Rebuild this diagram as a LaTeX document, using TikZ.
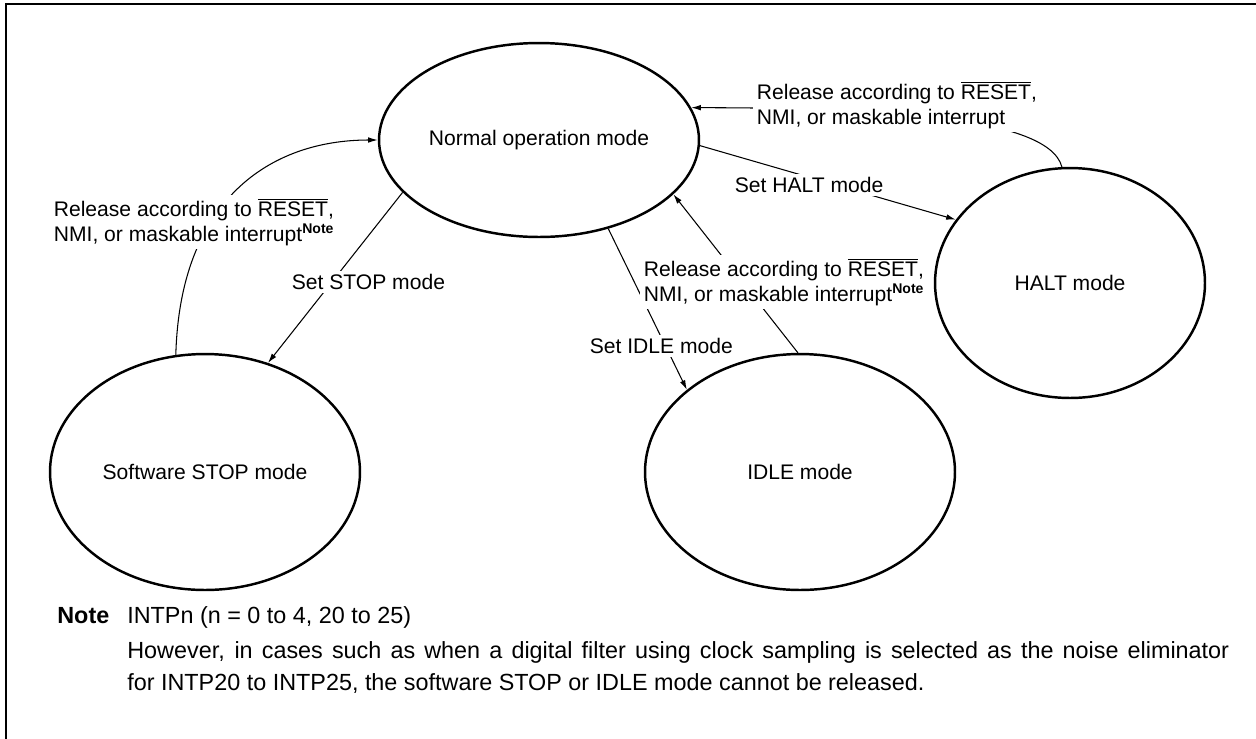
\documentclass[tikz,border=0pt]{standalone}
\usepackage{fontspec}
\setmainfont{Liberation Sans}
\usetikzlibrary{shapes.geometric,arrows.meta,backgrounds}
\newcommand{\resetbar}{$\overline{\mbox{RESET}}$}
\newcommand{\notemark}{\textsuperscript{\bfseries Note}}

\begin{document}
\begin{tikzpicture}[x=0.02cm, y=-0.02cm,
	every node/.style={font=\fontsize{12}{14.2}\selectfont},
	mode/.style={ellipse, draw, line width=1.4pt, inner sep=0pt, minimum width=6.2cm, minimum height=4.72cm},
	link/.style={line width=0.6pt, -{Latex[length=5.5pt,width=3.2pt]}},
	lbl/.style={fill=white, inner sep=2pt, align=left, anchor=west},
	notetxt/.style={font=\fontsize{13.3}{16}\selectfont, inner sep=0pt, anchor=base west}]
	\useasboundingbox (0,0) rectangle (1256,738);
	\draw[line width=1.7pt] (6,750) |- (1270,4);
	% operating modes
	\node[mode, minimum width=6.4cm, minimum height=3.88cm] (normal) at (539,140) {Normal operation mode};
	\foreach \id/\x/\y/\modetext in {sstop/205/472/Software STOP mode, idle/800/472/IDLE mode}
		\node[mode] (\id) at (\x,\y) {\modetext};
	\node[mode, minimum width=5.4cm, minimum height=4.6cm] (halt) at (1070,283) {HALT mode};
	\begin{scope}[on background layer]
		% transitions
		\draw[link] (normal.201) -- (sstop.60);
		\draw[link] (normal.-2) -- (halt.151);
		\draw[link] (normal.-52) -- (idle.144);
		\draw[link] (idle.91) -- (normal.-22);
		\draw[link] (sstop.104) .. controls (180,200) and (270,140) .. (normal.180);
		\draw[link] (halt.94) .. controls (1048,112) and (850,108) .. (normal.12);
		% labels on the transitions
		\node[lbl] (relstop) at (50,222) {Release according to \resetbar,\\NMI, or maskable interrupt\notemark};
		\node[lbl] (relhalt) at (753,105) {Release according to \resetbar,\\NMI, or maskable interrupt};
		\node[lbl] (relidle) at (640,282) {Release according to \resetbar,\\NMI, or maskable interrupt\notemark};
		\node[lbl] (setstop) at (288,282) {Set STOP mode};
		\node[lbl] (sethalt) at (731,185) {Set HALT mode};
		\node[lbl] (setidle) at (586,346) {Set IDLE mode};
	\end{scope}
	% note
	\node[notetxt, font=\fontsize{13.3}{16}\selectfont\bfseries] (notehead) at (57,623) {Note};
	\node[notetxt] (noteline1) at (127,623) {INTPn (n = 0 to 4, 20 to 25)};
	\node[notetxt] (noteline2) at (127,658) {\makebox[22.04cm][s]{However, in cases such as when a digital filter using clock sampling is selected as the noise eliminator}};
	\node[notetxt] (noteline3) at (127,690) {for INTP20 to INTP25, the software STOP or IDLE mode cannot be released.};
\end{tikzpicture}
\end{document}
